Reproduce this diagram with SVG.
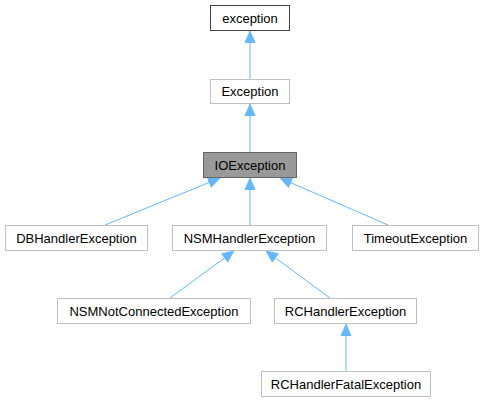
<svg xmlns="http://www.w3.org/2000/svg" width="484" height="403" viewBox="0 0 484 403">
<style>
.n rect{fill:#fff;stroke:#bfbfbf;stroke-width:1}
.n text{font-family:"Liberation Sans",Arial,sans-serif;font-size:13px;fill:#000;text-anchor:middle}
.e{stroke:#63b8ff;stroke-width:1;fill:none}
</style>
<defs>
<marker id="ah" viewBox="0 0 12 12" refX="12" refY="6" markerWidth="12" markerHeight="12" markerUnits="userSpaceOnUse" orient="auto">
<path d="M0.5,1 L11.5,6 L0.5,11 Z" fill="#63b8ff" stroke="#63b8ff"/>
</marker>
</defs>
<rect width="484" height="403" fill="#fff"/>
<g id="edges">
<path class="e" d="M250,79 L250,31" marker-end="url(#ah)"/>
<path class="e" d="M250,152 L250,104" marker-end="url(#ah)"/>
<path class="e" d="M105,225 L220,178" marker-end="url(#ah)"/>
<path class="e" d="M250,225 L250,178" marker-end="url(#ah)"/>
<path class="e" d="M388,225 L280,178" marker-end="url(#ah)"/>
<path class="e" d="M170,298 L234,251" marker-end="url(#ah)"/>
<path class="e" d="M330,298 L266,251" marker-end="url(#ah)"/>
<path class="e" d="M346,371 L346,324" marker-end="url(#ah)"/>
</g>
<g id="n_exception" class="n"><rect x="210.5" y="5.5" width="79" height="25" style="stroke:#404040"/><text x="250" y="22.5">exception</text></g>
<g id="n_Exception" class="n"><rect x="210.5" y="79.5" width="79" height="24"/><text x="250" y="96">Exception</text></g>
<g id="n_IOException" class="n"><rect x="203.5" y="152.5" width="93" height="25" style="fill:#999;stroke:#666"/><text x="250" y="169.5">IOException</text></g>
<g id="n_DBHandlerException" class="n"><rect x="5.5" y="225.5" width="142" height="25"/><text x="76.5" y="242.5">DBHandlerException</text></g>
<g id="n_NSMHandlerException" class="n"><rect x="172.5" y="225.5" width="154" height="25"/><text x="249.5" y="242.5">NSMHandlerException</text></g>
<g id="n_TimeoutException" class="n"><rect x="352.5" y="225.5" width="126" height="25"/><text x="415.5" y="242.5">TimeoutException</text></g>
<g id="n_NSMNotConnectedException" class="n"><rect x="57.5" y="298.5" width="193" height="25"/><text x="154" y="315.5">NSMNotConnectedException</text></g>
<g id="n_RCHandlerException" class="n"><rect x="274.5" y="298.5" width="142" height="25"/><text x="345.5" y="315.5">RCHandlerException</text></g>
<g id="n_RCHandlerFatalException" class="n"><rect x="261.5" y="371.5" width="169" height="25"/><text x="346" y="388.5">RCHandlerFatalException</text></g>
</svg>
